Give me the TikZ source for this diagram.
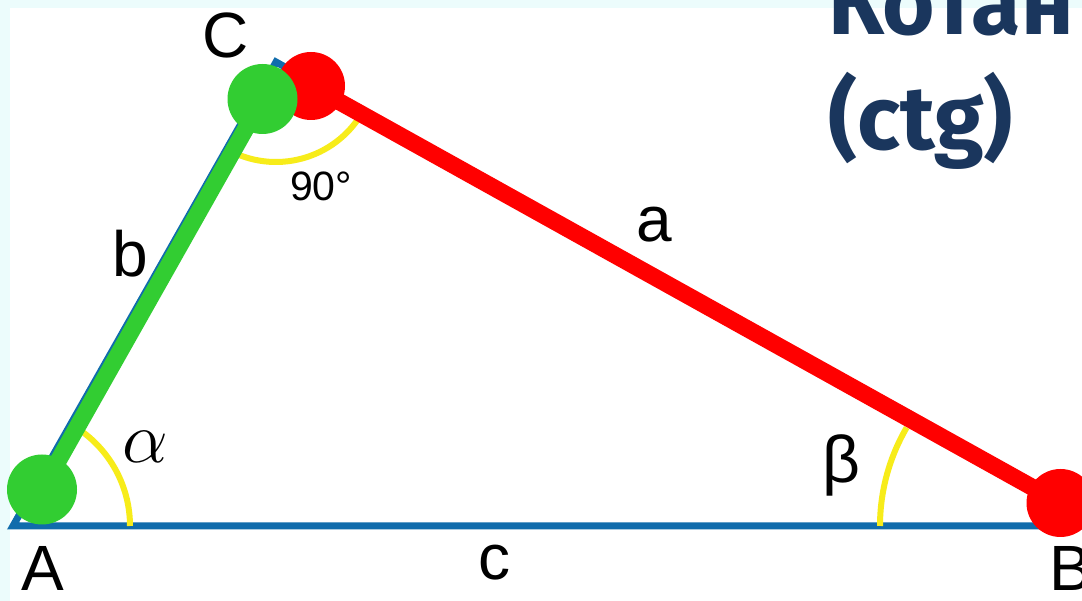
\documentclass[tikz,border=0pt]{standalone}
\usepackage{fontspec}
\setmainfont{Liberation Sans}
\newfontfamily\titlefont{Fira Sans}
\usepackage{graphicx}
\usepackage{tikz}
\usetikzlibrary{calc}
\definecolor{cBack}{RGB}{236,252,252}
\definecolor{cEdge}{RGB}{16,108,172}
\definecolor{cGreen}{RGB}{50,205,50}
\definecolor{cRed}{RGB}{255,0,0}
\definecolor{cArc}{RGB}{247,236,26}
\definecolor{cTitle}{RGB}{26,54,93}
\tikzset{
  edgeline/.style={draw=cEdge,line width=7pt,line join=miter},
  greenside/.style={draw=cGreen,line width=17pt},
  redside/.style={draw=cRed,line width=17pt},
  anglearc/.style={draw=cArc,line width=6pt},
  greendot/.style={circle,fill=cGreen,minimum size=70pt,inner sep=0pt},
  reddot/.style={circle,fill=cRed,minimum size=68pt,inner sep=0pt},
  vlabel/.style={font=\fontsize{64}{70}\selectfont,text=black,inner sep=0pt},
  glabel/.style={font=\fontsize{20}{24}\selectfont,text=black,inner sep=0pt},
  titletext/.style={font=\titlefont\bfseries\fontsize{90}{100}\selectfont,
                    text=cTitle,anchor=base west,inner sep=0pt}
}
\begin{document}
\begin{tikzpicture}[x=1pt,y=1pt]

  \clip (0,0) rectangle (1082,601);
  \fill[cBack] (0,0) rectangle (1082,601);
  \fill[white] (10,0) rectangle (1082,593);

  % vertices and dot centres
  \coordinate (A) at (13,75);
  \coordinate (C) at (276,539);
  \coordinate (B) at (1102,75);
  \coordinate (dotA) at (42,111.5);
  \coordinate (dotCg) at (262.5,502);
  \coordinate (dotCr) at (311,515);
  \coordinate (dotB) at (1060.5,98);

  % triangle
  \draw[edgeline] (A) -- (C) -- (B) -- cycle;

  % angle marks
  \draw[anglearc] ($(A)+(0:117)$) arc[start angle=0,end angle=60.6,radius=117];
  \draw[anglearc] ($(1075,75)+(149.7:195)$) arc[start angle=149.7,end angle=180,radius=195];
  \draw[anglearc] ($(C)+(240.6:100)$) arc[start angle=240.6,end angle=329.7,radius=100];

  % side a
  \draw[redside] (dotCr) -- (dotB);
  \node[reddot] (rC) at (dotCr) {};
  \node[reddot] (rB) at (dotB) {};

  % side b
  \draw[greenside] (dotA) -- (dotCg);
  \node[greendot] (gA) at (dotA) {};
  \node[greendot] (gC) at (dotCg) {};

  % labels
  \node[vlabel] (labA) at (43,33) {A};
  \node[vlabel,anchor=west] (labB) at (1049,33) {B};
  \node[vlabel] (labC) at (226,566) {C};
  \node[vlabel] (laba) at (654,376) {a};
  \node[vlabel] (labb) at (130,347) {b};
  \node[vlabel] (labc) at (494,38) {c};
  \node[glabel] (alpha) at (145,154) {\scalebox{3.5}{$\alpha$}};
  \node[vlabel,font=\fontsize{66}{70}\selectfont] (beta) at (841,136) {β};
  \node[vlabel,font=\fontsize{41}{44}\selectfont] (right) at (321,415) {90°};

  % title
  \node[titletext] (title1) at (828,566) {Котан};
  \node[titletext] (title2) at (828,451) {(ctg)};

\end{tikzpicture}
\end{document}
